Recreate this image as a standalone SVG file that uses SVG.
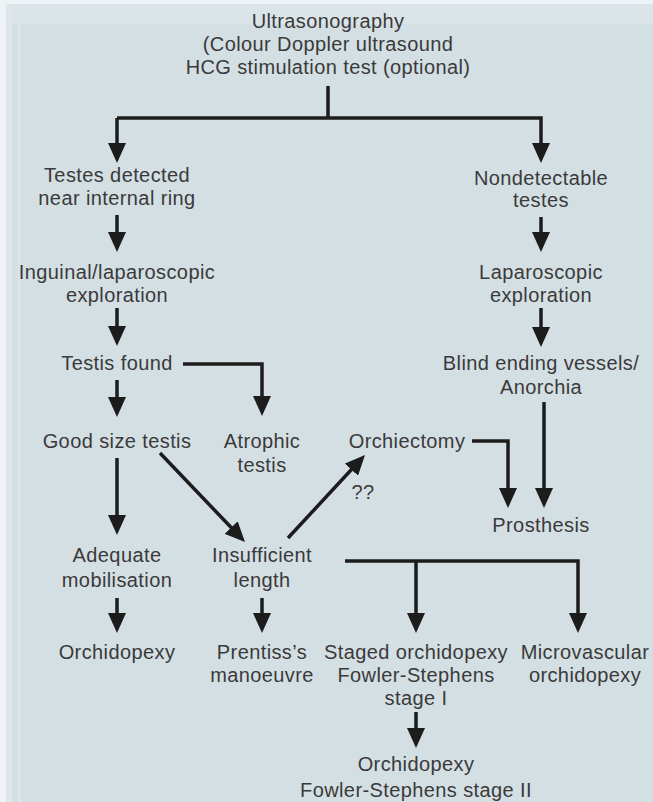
<svg xmlns="http://www.w3.org/2000/svg" width="653" height="802" viewBox="0 0 653 802">
<defs>
<marker id="ah" viewBox="0 0 20 18" refX="10" refY="9" markerWidth="20" markerHeight="18" markerUnits="userSpaceOnUse" orient="auto">
<path d="M0,0 L20,9 L0,18 z" fill="#1c1c1c"/>
</marker>
<style>
text{font-family:"Liberation Sans",Arial,sans-serif;font-size:20px;fill:#3a3a3a;text-anchor:middle;letter-spacing:0.4px}
.c{fill:none;stroke:#1c1c1c;stroke-width:3.5}
.a{marker-end:url(#ah)}
</style>
</defs>
<rect x="0" y="0" width="653" height="802" fill="#d4dfe4"/>
<rect x="0" y="0" width="653" height="4" fill="#eef3f5"/>
<rect x="0" y="4" width="653" height="20" fill="#dae4e9"/>
<rect x="0" y="0" width="6" height="802" fill="#eef3f5"/>
<rect x="6" y="4" width="6" height="798" fill="#dde7eb"/>
<rect x="18" y="4" width="3" height="798" fill="#dce6ea"/>

<g id="connectors">
<path class="c" d="M328,86 V118"/>
<path class="c a" d="M117,118 H541 V153"/>
<path class="c a" d="M117,118 V153"/>
<path class="c a" d="M117,215 V242"/>
<path class="c a" d="M541,217 V242"/>
<path class="c a" d="M117,308 V336"/>
<path class="c a" d="M541,308 V337"/>
<path class="c a" d="M183,364 H262 V406"/>
<path class="c a" d="M117,380 V407"/>
<path class="c a" d="M544,402 V498"/>
<path class="c a" d="M472,441 H508 V498"/>
<path class="c a" d="M117,458 V525"/>
<path class="c a" d="M160,453 L238.1,534.8"/>
<path class="c a" d="M288,538 L358.2,462.3"/>
<path class="c a" d="M345,561 H578 V623"/>
<path class="c a" d="M416,561 V623"/>
<path class="c a" d="M117,598 V623"/>
<path class="c a" d="M262,598 V623"/>
<path class="c a" d="M416,712 V738"/>
</g>

<g id="ultrasonography"><text x="328" y="28">Ultrasonography</text><text x="328" y="51">(Colour Doppler ultrasound</text><text x="328" y="74">HCG stimulation test (optional)</text></g>
<g id="testes-detected"><text x="117" y="182">Testes detected</text><text x="117" y="205">near internal ring</text></g>
<g id="nondetectable"><text x="541" y="185">Nondetectable</text><text x="541" y="207">testes</text></g>
<g id="inguinal"><text x="117" y="279">Inguinal/laparoscopic</text><text x="117" y="302">exploration</text></g>
<g id="laparoscopic"><text x="541" y="279">Laparoscopic</text><text x="541" y="302">exploration</text></g>
<g id="testis-found"><text x="117" y="370">Testis found</text></g>
<g id="blind-ending"><text x="541" y="370">Blind ending vessels/</text><text x="541" y="394">Anorchia</text></g>
<g id="good-size"><text x="117" y="448">Good size testis</text></g>
<g id="atrophic"><text x="262" y="448">Atrophic</text><text x="262" y="472">testis</text></g>
<g id="orchiectomy"><text x="407" y="448">Orchiectomy</text></g>
<g id="qq"><text x="363" y="499">??</text></g>
<g id="prosthesis"><text x="541" y="532">Prosthesis</text></g>
<g id="adequate"><text x="117" y="562">Adequate</text><text x="117" y="587">mobilisation</text></g>
<g id="insufficient"><text x="262" y="562">Insufficient</text><text x="262" y="587">length</text></g>
<g id="orchidopexy1"><text x="117" y="659">Orchidopexy</text></g>
<g id="prentiss"><text x="262" y="659">Prentiss’s</text><text x="262" y="682">manoeuvre</text></g>
<g id="staged"><text x="416" y="659">Staged orchidopexy</text><text x="416" y="682">Fowler-Stephens</text><text x="416" y="705">stage I</text></g>
<g id="microvascular"><text x="585" y="659">Microvascular</text><text x="585" y="682">orchidopexy</text></g>
<g id="orchidopexy2"><text x="416" y="771">Orchidopexy</text><text x="416" y="797">Fowler-Stephens stage II</text></g>
</svg>
